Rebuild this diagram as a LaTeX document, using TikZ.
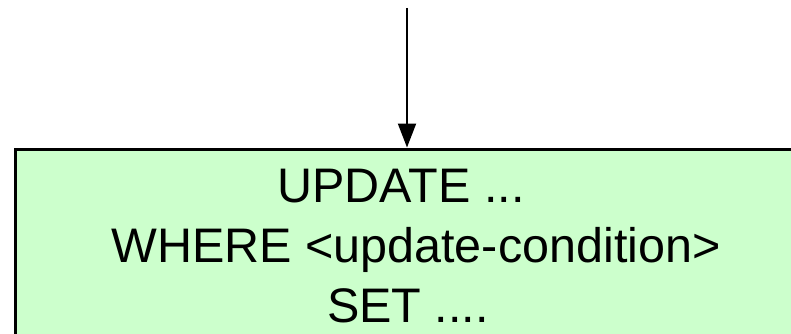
\documentclass[tikz,border=0pt]{standalone}
\usepackage{fontspec}
\setmainfont{Liberation Sans}
\usetikzlibrary{arrows.meta}
\definecolor{boxgreen}{HTML}{CCFFCC}
\tikzset{
  stmtbox/.style={draw=black, line width=3pt, fill=boxgreen, inner sep=0pt,
    minimum width=795pt, minimum height=211pt},
  stmtline/.style={anchor=base, inner sep=0pt, font=\fontsize{48.5pt}{60pt}\selectfont},
  flow/.style={line width=2pt, -{Triangle[length=24pt,width=18pt]}}
}
\begin{document}
\begin{tikzpicture}[x=1pt,y=-1pt]
\useasboundingbox (0,0) rectangle (791,334);
\clip (0,0) rectangle (791,334);
\node[stmtbox] (box) at (412.5,254.5) {};
\coordinate (src) at (407,8);
\draw[flow] (src) -- (src |- box.north);
\node[stmtline] (l1) at (401,202) {UPDATE ...};
\node[stmtline] (l2) at (416,262) {WHERE <update-condition>};
\node[stmtline] (l3) at (408,322) {SET ....};
\end{tikzpicture}
\end{document}
